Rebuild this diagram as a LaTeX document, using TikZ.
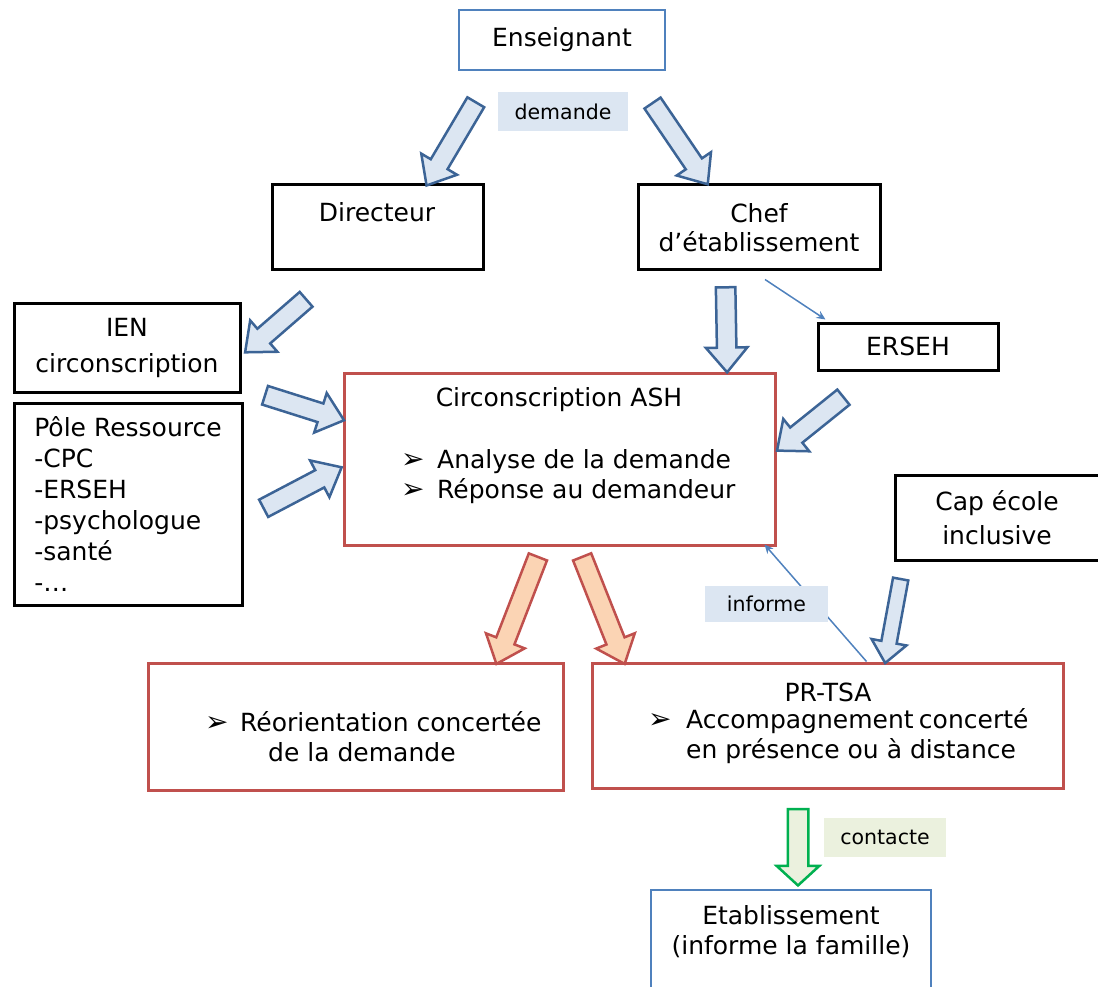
\documentclass[tikz,border=0pt]{standalone}
\usepackage{fontspec}
\setmainfont{DejaVu Sans}
\usetikzlibrary{shapes.arrows,calc,arrows.meta}

\definecolor{boxblue}{HTML}{4F81BD}
\definecolor{boxred}{HTML}{C0504D}
\definecolor{arrblue}{HTML}{3C6496}
\definecolor{fillblue}{HTML}{DCE6F2}
\definecolor{fillorange}{HTML}{FBD4B4}
\definecolor{arrgreen}{HTML}{00B050}
\definecolor{fillgreen}{HTML}{EBF1DE}

\tikzset{
  txt/.style={font=\fontsize{25}{30}\selectfont, inner sep=0pt, align=center},
  bluebox/.style={txt, draw=boxblue, line width=2.5pt},
  blackbox/.style={txt, draw=black, line width=3pt},
  redbox/.style={txt, draw=boxred, line width=3pt},
  tag/.style={font=\fontsize{20.5}{24}\selectfont, fill=fillblue, inner sep=0pt},
  fat/.style={single arrow, line width=2.5pt, inner xsep=0pt, inner ysep=8.5pt,
    single arrow head extend=11pt, single arrow tip angle=80},
  bluearrow/.style={fat, draw=arrblue, fill=fillblue},
  orangearrow/.style={fat, draw=boxred, fill=fillorange},
  greenarrow/.style={fat, draw=arrgreen, fill=fillgreen, inner ysep=9pt, single arrow tip angle=95},
  thin/.style={draw=boxblue, line width=1.5pt, -{Stealth[length=9pt,width=8pt]}}
}

\newcommand{\puce}[1]{\makebox[#1][l]{\fontsize{28}{28}\selectfont ➢}}
\newcommand{\fatarrow}[3][bluearrow]{%
  \path let \p1=#2, \p2=#3, \n1={atan2(\y2-\y1,\x2-\x1)}, \n2={veclen(\x2-\x1,\y2-\y1)} in
    node[#1, rotate=\n1, minimum height=\n2] at ($#2!0.5!#3$) {};}

\begin{document}
\begin{tikzpicture}[x=1pt, y=-1pt]
  \useasboundingbox (0,0) rectangle (1098,987);

  \node[bluebox, minimum width=206, minimum height=60] (ens) at (562,40) {Enseignant};
  \node[tag, minimum width=130, minimum height=39] (dem) at (563,112) {demande};

  \node[blackbox, minimum width=211, minimum height=85] (dir) at (377.5,227.5) {};
  \node[txt] (dirtxt) at (377,212) {Directeur};
  \node[blackbox, minimum width=242, minimum height=85] (chef) at (759,227.5) {Chef\\[-1pt]d’établissement};

  \node[blackbox, minimum width=226, minimum height=89] (ien) at (127,347.5) {IEN\\[6pt]circonscription};
  \node[blackbox, minimum width=228, minimum height=202, align=left, font=\fontsize{25}{31}\selectfont]
    (pole) at (128,504) {Pôle Ressource\\-CPC\\-ERSEH\\-psychologue\\-santé\\-…};
  \node[blackbox, minimum width=180, minimum height=47] (erseh) at (908,346.5) {ERSEH};

  \node[redbox, minimum width=431, minimum height=172] (ash) at (559.5,459) {};
  \node[txt] (ashtit) at (559,400) {Circonscription ASH};
  \node[txt, anchor=west, align=left] (ashlist) at (401,477)
    {\puce{36pt}Analyse de la demande\\\puce{36pt}Réponse au demandeur};

  \node[blackbox, minimum width=204, minimum height=85] (cap) at (997,517.5) {Cap école\\[4pt]inclusive};

  \node[redbox, minimum width=415, minimum height=127] (reo) at (355.5,726.5) {};
  \node[txt, anchor=west, align=left] (reotxt) at (205,737)
    {\puce{35pt}Réorientation concertée\\\hspace{63pt}de la demande};
  \node[redbox, minimum width=471, minimum height=125] (prtsa) at (827.5,725.5) {};
  \node[txt] (prtit) at (828,692) {PR-TSA};
  \node[txt, anchor=west, align=left] (prlist) at (648,736)
    {\puce{38pt}\makebox[339pt][s]{Accompagnement concerté}\\\hspace{38pt}en présence ou à distance};

  \node[bluebox, minimum width=280, minimum height=104] (etab) at (791,942) {};
  \node[txt] (etabtxt) at (791,932) {Etablissement\\(informe la famille)};

  \draw[thin] ($(prtsa.north west)+(276,0)$) -- ($(ash.south east)+(-12,-2)$);
  \node[tag, minimum width=123, minimum height=36] (inf) at (766.5,604) {informe};
  \node[tag, fill=fillgreen, minimum width=122, minimum height=39] (cont) at (885,837.5) {contacte};
  \draw[thin] ($(chef.south)+(6,8)$) -- ($(erseh.north west)+(9,-2)$);

  \fatarrow{($(ens.south west)+(21,26)$)}{($(dir.north east)+(-55,-3)$)}
  \fatarrow{($(ens.south east)+(-17,27)$)}{($(chef.north west)+(68,-4)$)}
  \fatarrow{($(dir.south west)+(40,24)$)}{($(ien.north east)+(8,47)$)}
  \fatarrow{($(chef.south west)+(89,10)$)}{($(ash.north)+(167.5,-5)$)}
  \fatarrow{($(ien.south east)+(18,0)$)}{($(ash.north west)+(-4,47)$)}
  \fatarrow{($(pole.east)+(15,7)$)}{($(ash.west)+(-6,11)$)}
  \fatarrow{($(erseh.south)+(-60,22)$)}{($(ash.east)+(5,-12)$)}
  \fatarrow[orangearrow]{($(ash.south)+(-19.5,5)$)}{($(reo.north east)+(-66,-3)$)}
  \fatarrow[orangearrow]{($(ash.south)+(20.5,5)$)}{($(prtsa.north west)+(32,-3)$)}
  \fatarrow[bluearrow, inner ysep=6.5pt, single arrow head extend=10pt]{($(cap.south west)+(8,13)$)}{($(prtsa.north)+(58.5,-3)$)}
  \fatarrow[greenarrow]{($(prtsa.south)+(-29.5,15)$)}{($(etab.north)+(7,-8)$)}
\end{tikzpicture}
\end{document}
